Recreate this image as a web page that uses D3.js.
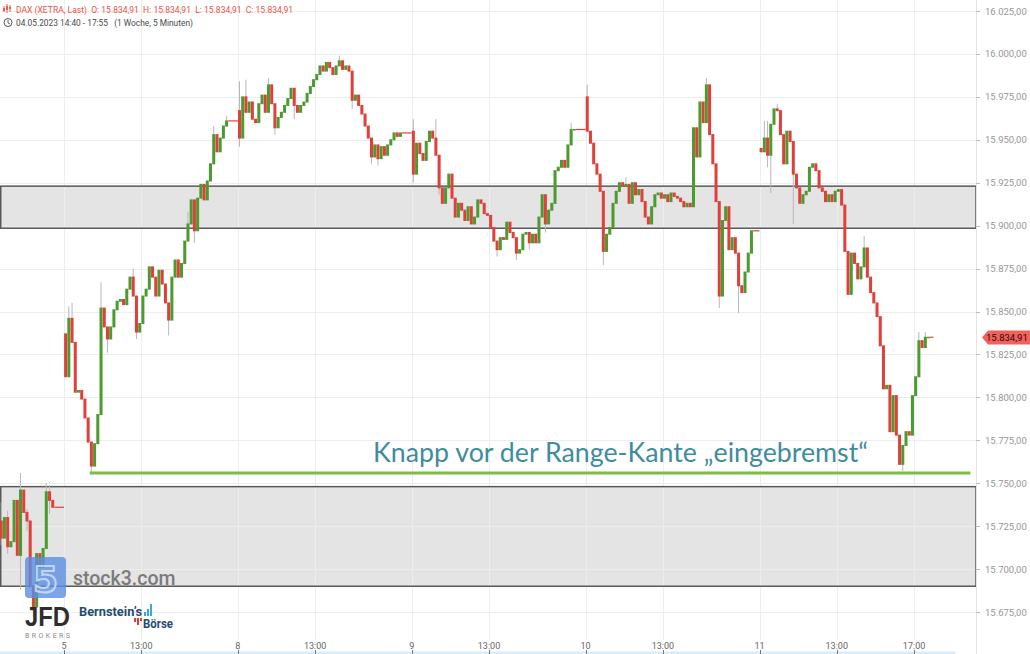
<!DOCTYPE html>
<html><head><meta charset="utf-8">
<script src="https://cdn.jsdelivr.net/npm/d3@7"></script>
<style>
body{margin:0;background:#fff;}
svg{display:block;}
text{white-space:pre;}
</style></head>
<body>
<svg id="chart" width="1030" height="654"></svg>
<script>
// ---------- DATA ----------
const dayLabels = ["4", "5", "8", "9", "10", "11"];
const dayOpens  = [15728, 15837, 15967, 15955, 15975, 15945];
const firstSlot = [34, 0, 0, 0, 0, 0];           // 10-minute slot (from 9:00) of the first candle
const closes4  = [15718,15730,15713,15716,15740,15708,15746,15733,15728,15690,15678,15709,15701,15712,15745,15740,15736];
const closes5  = [15812,15846,15832,15803,15804,15799,15788,15774,15760,15773,15790,15852,15841,15834,15841,15851,15856,15857,15854,15863,
                  15870,15859,15838,15843,15859,15863,15876,15870,15859,15874,15866,15855,15845,15870,15880,15870,15878,15891,15901,15915,
                  15897,15916,15924,15915,15926,15936,15953,15943,15951,15958,15961];
const closes8  = [15951,15975,15966,15972,15962,15960,15971,15976,15966,15982,15971,15957,15963,15966,15970,15974,15980,15970,15966,15970,
                  15972,15977,15981,15985,15988,15993,15990,15995,15992,15988,15993,15996,15991,15993,15990,15973,15976,15970,15965,15958,
                  15951,15940,15947,15939,15946,15941,15947,15950,15954,15952,15954];
const closes9  = [15930,15948,15942,15938,15949,15955,15951,15941,15922,15913,15922,15930,15916,15905,15913,15909,15903,15911,15901,15905,
                  15915,15913,15907,15906,15899,15891,15886,15893,15892,15902,15896,15893,15884,15886,15895,15896,15890,15895,15890,15905,
                  15918,15901,15909,15913,15932,15934,15938,15934,15947,15956,15956];
const closes10 = [15955,15948,15936,15930,15920,15885,15895,15899,15913,15920,15925,15923,15924,15913,15925,15918,15921,15914,15905,15901,
                  15911,15918,15919,15916,15918,15914,15919,15917,15916,15914,15911,15913,15911,15957,15940,15972,15960,15982,15953,15936,
                  15914,15859,15903,15911,15886,15893,15884,15865,15861,15873,15884,15897];
const closes11 = [15943,15951,15941,15959,15968,15967,15953,15936,15955,15949,15930,15922,15913,15918,15920,15934,15936,15932,15922,15920,
                  15914,15918,15914,15920,15921,15912,15885,15860,15884,15878,15869,15876,15887,15870,15861,15855,15847,15830,15805,15807,
                  15780,15801,15778,15761,15772,15780,15778,15801,15812,15833,15829,15835,15835];
// [day index, slot, high, low] for visible wicks
const wicks = [
  [0,34,15739,15714],[0,36,15734,15709],[0,40,15756,15688],[0,42,15735,15722],[0,44,15690,15672],[0,48,15750,15740],[0,49,15749,15732],
  [1,1,15853,null],[1,2,15855,null],[1,8,null,15756],[1,11,15867,null],[1,13,null,15826],[1,21,15875,null],[1,22,null,15834],
  [1,32,null,15836],[1,38,15908,null],[1,40,null,15890],[1,46,15958,null],[1,50,15964,null],
  [2,0,15984,15946],[2,2,15985,null],[2,9,15986,null],[2,11,null,15953],[2,17,null,15962],[2,31,15999,null],[2,35,null,15968],
  [2,41,null,15936],[2,43,null,15935],
  [3,0,15962,15925],[3,7,15962,null],[3,8,null,15918],[3,26,null,15882],[3,32,null,15880],[3,36,null,15886],[3,41,null,15896],[3,49,15960,null],
  [4,0,15982,null],[4,5,null,15877],[4,12,15928,null],[4,37,15986,null],[4,41,null,15852],[4,44,15903,null],[4,47,null,15849],
  [5,1,15961,null],[5,2,15961,15934],[5,3,null,15919],[5,5,15971,null],[5,10,null,15901],[5,32,15894,null],[5,44,null,15757],
  [5,49,15838,null],[5,51,15838,null]
];
const priceTicks = [15675,15700,15725,15750,15775,15800,15825,15850,15875,15900,15925,15950,15975,16000,16025];
const timeTicks = [[1,"9:00","5"],[1,"13:00","13:00"],[2,"9:00","8"],[2,"13:00","13:00"],[3,"9:00","9"],[3,"13:00","13:00"],
                   [4,"9:00","10"],[4,"13:00","13:00"],[5,"9:00","11"],[5,"13:00","13:00"],[5,"17:00","17:00"]];
const zones = [[15898.5, 15923], [15690, 15748]];
const supportLevel = 15756;
const supportFrom = [1, "10:20"], supportTo = [5, "19:55"];
const lastPrice = 15834.91;
const annotation = "Knapp vor der Range-Kante \u201Eeingebremst\u201C";
const annotationAt = [2, "16:00", 15762.4];
const headerLine1 = "DAX (XETRA, Last)  O: 15.834,91  H: 15.834,91  L: 15.834,91  C: 15.834,91";
const headerLine2 = "04.05.2023 14:40 - 17:55   (1 Woche, 5 Minuten)";

// ---------- SCALES ----------
const W = 1030, H = 654, axisX = 976;
const SESSION = 540; // minutes 9:00-18:00 per day on axis
const tIndex = (di, hhmm) => { const [h, m] = hhmm.split(":").map(Number); return di * SESSION + (h - 9) * 60 + m; };
const x = d3.scaleLinear().domain([tIndex(1,"9:00"), tIndex(5,"9:00")]).range([64, 759.5]);
const y = d3.scaleLinear().domain([15675, 16025]).range([612, 11]);
const de = d3.formatLocale({decimal: ",", thousands: ".", grouping: [3], currency: ["", ""]});
const fmt = de.format(",.2f");

const svg = d3.select("#chart");
const FONT = "Roboto, 'Liberation Sans', Arial, sans-serif";

// ---------- ZONES ----------
svg.append("g").selectAll("rect").data(zones).join("rect")
  .attr("x", 0).attr("width", axisX)
  .attr("y", d => y(d[1])).attr("height", d => y(d[0]) - y(d[1]))
  .attr("fill", "#e4e4e4");

// ---------- GRID ----------
const grid = svg.append("g");
grid.selectAll("line.h").data(priceTicks).join("line").attr("class","h")
  .attr("x1", 0).attr("x2", axisX).attr("y1", d => Math.round(y(d)) + 0.5).attr("y2", d => Math.round(y(d)) + 0.5)
  .attr("stroke", "#ededed").attr("stroke-width", 1);
grid.selectAll("line.v").data(timeTicks).join("line").attr("class","v")
  .attr("x1", d => Math.round(x(tIndex(d[0], d[1]))) + 0.5).attr("x2", d => Math.round(x(tIndex(d[0], d[1]))) + 0.5)
  .attr("y1", 0).attr("y2", 640).attr("stroke", "#ededed").attr("stroke-width", 1);

// zone borders
svg.append("g").selectAll("rect").data(zones).join("rect")
  .attr("x", 0.75).attr("width", axisX - 0.75)
  .attr("y", d => y(d[1])).attr("height", d => y(d[0]) - y(d[1]))
  .attr("fill", "none").attr("stroke", "#5a5a5a").attr("stroke-width", 1.5);

// ---------- CANDLES ----------
const allCloses = [closes4, closes5, closes8, closes9, closes10, closes11];
const candles = [], tails = [];
allCloses.forEach((cl, di) => {
  let o = dayOpens[di];
  cl.forEach((c, i) => {
    const k = firstSlot[di] + i;
    candles.push({di, k, o, c, h: Math.max(o, c), l: Math.min(o, c)});
    o = c;
  });
  const lastK = firstSlot[di] + cl.length;
  tails.push({t0: di * SESSION + lastK * 10, t1: di * SESSION + SESSION, p: cl[cl.length - 1]});
});
wicks.forEach(([di, k, h, l]) => {
  const cd = candles.find(c => c.di === di && c.k === k);
  if (!cd) return;
  if (h != null) cd.h = Math.max(cd.h, h);
  if (l != null) cd.l = Math.min(cd.l, l);
});
const t0 = d => d.di * SESSION + d.k * 10;
const cx = d => (x(t0(d)) + x(t0(d) + 10)) / 2;
const RED = "#e0403a", GREEN = "#4b9b30";

const cg = svg.append("g");
cg.selectAll("line.tail").data(tails).join("line").attr("class","tail")
  .attr("x1", d => x(d.t0)).attr("x2", d => x(d.t1)).attr("y1", d => y(d.p)).attr("y2", d => y(d.p))
  .attr("stroke", RED).attr("stroke-width", 1.2);
cg.selectAll("line.wick").data(candles).join("line").attr("class","wick")
  .attr("x1", cx).attr("x2", cx).attr("y1", d => y(d.h)).attr("y2", d => y(d.l))
  .attr("stroke", "#b8b8b8").attr("stroke-width", 1);
cg.selectAll("rect").data(candles).join("rect")
  .attr("x", d => x(t0(d)) + 0.1)
  .attr("width", d => x(t0(d) + 10) - x(t0(d)) - 0.2)
  .attr("y", d => y(Math.max(d.o, d.c)) - 0.5)
  .attr("height", d => Math.max(1.5, Math.abs(y(d.o) - y(d.c)) + 1))
  .attr("fill", d => d.c >= d.o ? GREEN : RED);

// ---------- SUPPORT LINE ----------
svg.append("line")
  .attr("x1", x(tIndex(...supportFrom))).attr("x2", x(tIndex(...supportTo)))
  .attr("y1", y(supportLevel)).attr("y2", y(supportLevel))
  .attr("stroke", "#7cbd44").attr("stroke-width", 3);

// ---------- ANNOTATION ----------
const ann = svg.append("text")
  .attr("x", x(tIndex(annotationAt[0], annotationAt[1]))).attr("y", y(annotationAt[2]))
  .attr("font-family", "Lato, 'Open Sans', sans-serif").attr("font-size", 27)
  .attr("fill", "#3f8c9d").text(annotation);
const aw = ann.node().getComputedTextLength();
ann.attr("font-size", 27 * 495 / aw);

// ---------- RIGHT AXIS ----------
svg.append("line").attr("x1", axisX + 0.5).attr("x2", axisX + 0.5).attr("y1", 0).attr("y2", H)
  .attr("stroke", "#e3e3e3");
const ya = svg.append("g");
ya.selectAll("line").data(priceTicks).join("line")
  .attr("x1", axisX).attr("x2", axisX + 4).attr("y1", d => Math.round(y(d)) + 0.5).attr("y2", d => Math.round(y(d)) + 0.5)
  .attr("stroke", "#bdbdbd");
ya.selectAll("text").data(priceTicks).join("text")
  .attr("x", 985).attr("y", d => y(d) + 3.5)
  .attr("font-family", FONT).attr("font-size", 9.5).attr("fill", "#979797")
  .text(d => fmt(d));

// price tag
const py = y(lastPrice);
svg.append("path")
  .attr("d", `M${axisX + 6},${py} L${axisX + 12},${py - 7} L${W},${py - 7} L${W},${py + 7} L${axisX + 12},${py + 7} Z`)
  .attr("fill", "#f2615c");
svg.append("text").attr("x", 986).attr("y", py + 3.5)
  .attr("font-family", FONT).attr("font-size", 9.5).attr("fill", "#2a0b0b").text(fmt(lastPrice));

// ---------- BOTTOM AXIS ----------
svg.append("rect").attr("x", 0).attr("y", 651.5).attr("width", 955).attr("height", 2.5).attr("fill", "#d8ecfa");
const xa = svg.append("g");
xa.selectAll("line").data(timeTicks).join("line")
  .attr("x1", d => Math.round(x(tIndex(d[0], d[1]))) + 0.5).attr("x2", d => Math.round(x(tIndex(d[0], d[1]))) + 0.5)
  .attr("y1", 650).attr("y2", 654).attr("stroke", "#777");
xa.selectAll("text").data(timeTicks).join("text")
  .attr("x", d => x(tIndex(d[0], d[1]))).attr("y", 649)
  .attr("text-anchor", "middle").attr("font-family", FONT).attr("font-size", 9).attr("fill", "#666")
  .text(d => d[2]);

// ---------- HEADER ----------
const hd = svg.append("g");
[[4,6,12,8,11],[7,4,13,6,10],[10,5,12,7,9]].forEach(([xx, y1, y2, b1, b2]) => {
  hd.append("line").attr("x1", xx).attr("x2", xx).attr("y1", y1).attr("y2", y2).attr("stroke", "#ef5a4d").attr("stroke-width", 1);
  hd.append("rect").attr("x", xx - 1).attr("y", b1).attr("width", 2).attr("height", b2 - b1).attr("fill", "#ef5a4d");
});
const h1 = hd.append("text").attr("x", 16).attr("y", 13).attr("font-family", FONT).attr("font-size", 8.6)
  .attr("fill", "#ee5247").text(headerLine1);
hd.append("circle").attr("cx", 8).attr("cy", 22.5).attr("r", 4).attr("fill", "none").attr("stroke", "#555").attr("stroke-width", 1);
hd.append("path").attr("d", "M8,20 L8,22.8 L10,24").attr("fill", "none").attr("stroke", "#555").attr("stroke-width", 1);
const h2 = hd.append("text").attr("x", 16).attr("y", 26).attr("font-family", FONT).attr("font-size", 8.6)
  .attr("fill", "#4a4a4a").text(headerLine2);
// fit header widths to reference extents
[[h1, 277], [h2, 177]].forEach(([t, w]) => {
  const cw = t.node().getComputedTextLength();
  t.attr("font-size", 8.6 * w / cw);
});

// ---------- WATERMARKS / LOGOS ----------
const wm = svg.append("g");
wm.append("rect").attr("x", 25).attr("y", 557).attr("width", 41).attr("height", 41).attr("rx", 4)
  .attr("fill", "#5a8fe2").attr("opacity", 0.8);
wm.append("text").attr("x", 45.5).attr("y", 592).attr("text-anchor", "middle")
  .attr("font-family", "'DejaVu Sans', sans-serif").attr("font-weight", "bold").attr("font-size", 36)
  .attr("fill", "none").attr("stroke", "#d6e4f8").attr("stroke-width", 2).attr("opacity", 0.8).text("5");
wm.append("text").attr("x", 73).attr("y", 585).attr("font-family", FONT).attr("font-weight", 500)
  .attr("font-size", 19.5).attr("fill", "#707070").attr("opacity", 0.9).text("stock3.com");

wm.append("text").attr("x", 25).attr("y", 625.5).attr("font-family", "'Liberation Sans', Arial, sans-serif").attr("font-weight", "bold")
  .attr("font-size", 27).attr("fill", "#2e2e2e").attr("textLength", 45).attr("lengthAdjust", "spacingAndGlyphs").text("JFD");
wm.append("text").attr("x", 25).attr("y", 638).attr("font-family", FONT)
  .attr("font-size", 7).attr("fill", "#8a8a8a").attr("textLength", 45).attr("lengthAdjust", "spacing").text("BROKERS");

wm.append("text").attr("x", 79).attr("y", 616).attr("font-family", FONT).attr("font-weight", "bold")
  .attr("font-size", 12).attr("fill", "#1f4b70").attr("textLength", 63).attr("lengthAdjust", "spacingAndGlyphs").text("Bernstein\u2019s");
[[144,612,4],[147,609,7],[150,604,12]].forEach(([bx, by, bh]) =>
  wm.append("rect").attr("x", bx).attr("y", by).attr("width", 2).attr("height", bh).attr("fill", "#3aa7e3"));
[[134,618,4],[137,618,7],[140,618,3]].forEach(([bx, by, bh]) =>
  wm.append("rect").attr("x", bx).attr("y", by).attr("width", 2).attr("height", bh).attr("fill", "#e03c3c"));
wm.append("text").attr("x", 143).attr("y", 628).attr("font-family", FONT).attr("font-weight", "bold")
  .attr("font-size", 12).attr("fill", "#1f4b70").attr("textLength", 30).attr("lengthAdjust", "spacingAndGlyphs").text("B\u00F6rse");
</script>
</body></html>
